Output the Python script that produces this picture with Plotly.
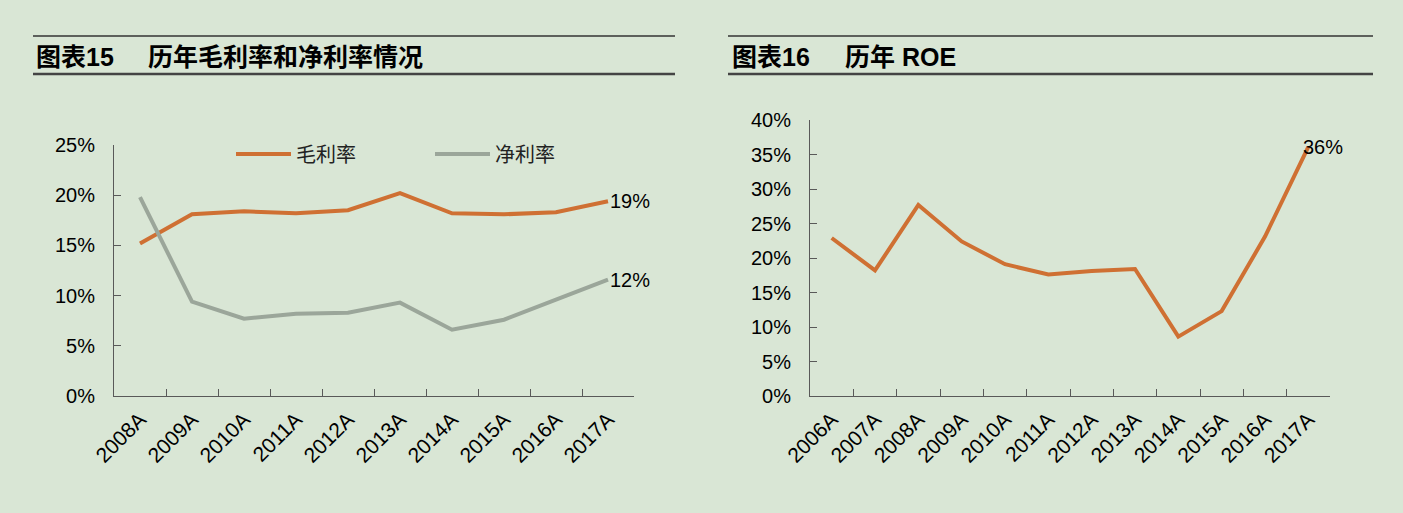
import plotly.graph_objects as go

W, H = 1403, 513

# ---- data ----
years_margin = ["2008A", "2009A", "2010A", "2011A", "2012A", "2013A", "2014A", "2015A", "2016A", "2017A"]
gross_margin = [15.2, 18.1, 18.4, 18.2, 18.5, 20.2, 18.2, 18.1, 18.3, 19.4]
net_margin = [19.8, 9.4, 7.7, 8.2, 8.3, 9.3, 6.6, 7.6, 9.6, 11.6]

years_roe = ["2006A", "2007A", "2008A", "2009A", "2010A", "2011A", "2012A", "2013A", "2014A", "2015A", "2016A", "2017A"]
roe = [22.9, 18.2, 27.7, 22.4, 19.1, 17.6, 18.1, 18.4, 8.6, 12.3, 23.1, 36.1]

title_left_num = "图表15"
title_left = "历年毛利率和净利率情况"
title_right_num = "图表16"
title_right = "历年 ROE"

BG = "#d9e6d5"
ORANGE = "#cf7033"
GRAY = "#9ba69a"
AXIS = "#595959"
FONT = "Liberation Sans, Arial, Noto Sans CJK SC"

def px(x):
    return x / W

def py(y):
    return 1 - y / H

fig = go.Figure()

fig.add_trace(go.Scatter(x=years_margin, y=gross_margin, mode="lines", name="毛利率",
                         line=dict(color=ORANGE, width=4), xaxis="x", yaxis="y"))
fig.add_trace(go.Scatter(x=years_margin, y=net_margin, mode="lines", name="净利率",
                         line=dict(color=GRAY, width=4), xaxis="x", yaxis="y"))
fig.add_trace(go.Scatter(x=years_roe, y=roe, mode="lines", name="ROE", showlegend=False,
                         line=dict(color=ORANGE, width=4), xaxis="x2", yaxis="y2"))

axis_common = dict(showgrid=False, zeroline=False, showline=True, linecolor=AXIS, linewidth=1,
                   ticks="inside", ticklen=7, tickcolor=AXIS, tickwidth=1, automargin=False,
                   fixedrange=True)
xfont = dict(family=FONT, size=21, color="#000000")
yfont = dict(family=FONT, size=20, color="#000000")

fig.update_layout(
    template="none",
    width=W, height=H, autosize=False,
    margin=dict(l=0, r=0, t=0, b=0, pad=0),
    paper_bgcolor=BG, plot_bgcolor=BG,
    font=dict(family=FONT, color="#000000"),
    xaxis=dict(domain=[px(114), px(634)], type="category", tickson="boundaries",
               range=[-0.5, len(years_margin) - 0.5], tickfont=xfont,
               tickangle=-45, anchor="y", ticklabelstandoff=2, **axis_common),
    yaxis=dict(domain=[py(396), py(145)], range=[0, 25], dtick=5, ticksuffix="%",
               tickfont=yfont, anchor="x", ticklabelstandoff=14, **axis_common),
    xaxis2=dict(domain=[px(810), px(1330)], type="category", tickson="boundaries",
                range=[-0.5, len(years_roe) - 0.5], tickfont=xfont,
                tickangle=-45, anchor="y2", ticklabelstandoff=2, **axis_common),
    yaxis2=dict(domain=[py(396), py(120)], range=[0, 40], dtick=5, ticksuffix="%",
                tickfont=yfont, anchor="x2", ticklabelstandoff=14, **axis_common),
    legend=dict(orientation="h", x=px(231), y=py(154), xanchor="left", yanchor="middle",
                bgcolor="rgba(0,0,0,0)", borderwidth=0,
                font=dict(family="Noto Sans CJK SC", size=20, color="#222"),
                entrywidth=129, itemwidth=55, tracegroupgap=0),
    showlegend=True,
)

# data labels on last points
lab_font = dict(family=FONT, size=20, color="#000")
fig.add_annotation(x=years_margin[-1], y=gross_margin[-1], xref="x", yref="y",
                   text=f"{round(gross_margin[-1])}%", showarrow=False, xanchor="left", yanchor="middle",
                   xshift=0, font=lab_font)
fig.add_annotation(x=years_margin[-1], y=net_margin[-1], xref="x", yref="y",
                   text=f"{round(net_margin[-1])}%", showarrow=False, xanchor="left", yanchor="middle",
                   xshift=0, font=lab_font)
fig.add_annotation(x=years_roe[-1], y=roe[-1], xref="x2", yref="y2",
                   text=f"{round(roe[-1])}%", showarrow=False, xanchor="left", yanchor="middle",
                   xshift=-7, font=lab_font)

# titles
title_font = dict(family="Liberation Sans, Noto Sans CJK SC", size=25, color="#000")
for x0, num, txt, x1 in [(36, title_left_num, title_left, 148), (732, title_right_num, title_right, 845)]:
    fig.add_annotation(x=px(x0), y=py(57), xref="paper", yref="paper", text=f"<b>{num}</b>",
                       showarrow=False, xanchor="left", yanchor="middle", font=title_font,
                       xshift=-2)
    fig.add_annotation(x=px(x1), y=py(57), xref="paper", yref="paper", text=f"<b>{txt}</b>",
                       showarrow=False, xanchor="left", yanchor="middle", font=title_font,
                       xshift=-2)

# title rules
for xa, xb in [(33, 675), (728, 1373)]:
    fig.add_shape(type="line", xref="paper", yref="paper", x0=px(xa), x1=px(xb), y0=py(36), y1=py(36),
                  line=dict(color="#333", width=1.5))
    fig.add_shape(type="line", xref="paper", yref="paper", x0=px(xa), x1=px(xb), y0=py(74), y1=py(74),
                  line=dict(color="#444", width=2.5))

fig.write_html("out.html")
